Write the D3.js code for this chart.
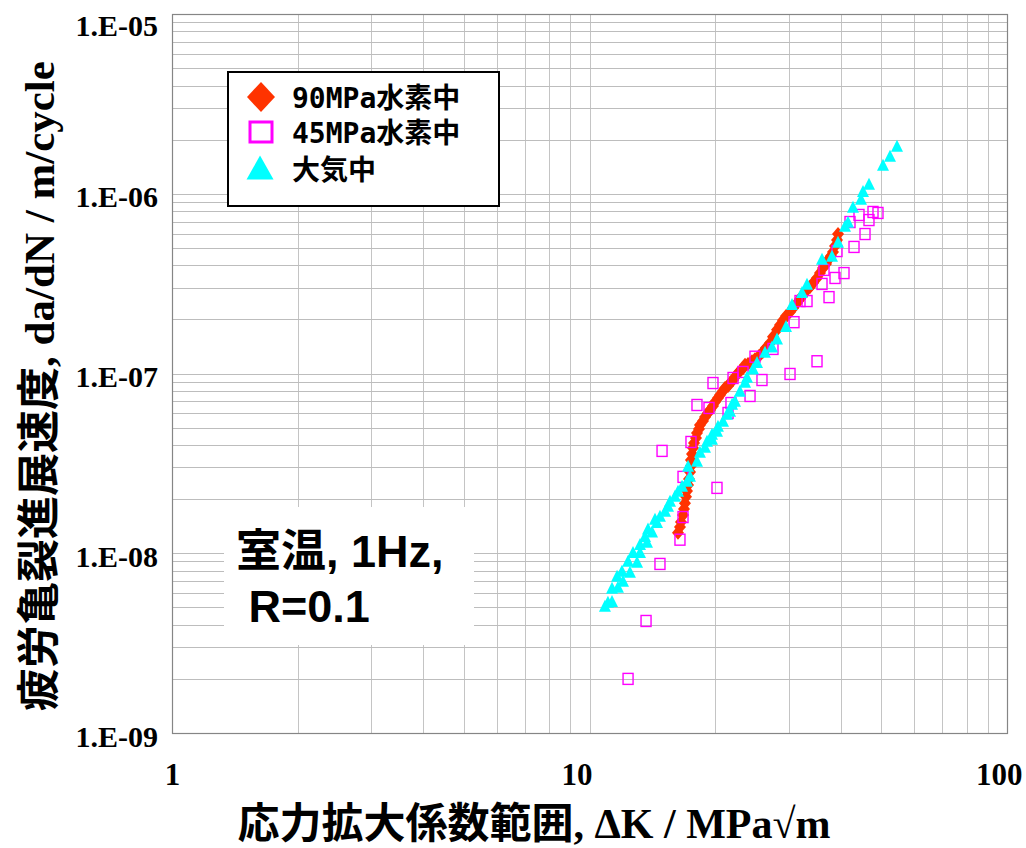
<!DOCTYPE html>
<html>
<head>
<meta charset="utf-8">
<script src="https://cdn.jsdelivr.net/npm/d3@7/dist/d3.min.js"></script>
<style>
  html, body { margin: 0; padding: 0; background: #fff; }
  svg { display: block; }
</style>
</head>
<body>
<svg id="chart" width="1026" height="848"></svg>
<script>
// Fatigue crack growth rate vs. stress intensity factor range
// ΔK [MPa√m], da/dN [m/cycle]

const seriesNames = ["90MPa水素中", "45MPa水素中", "大気中"];

// 90 MPa hydrogen gas
const h2_90MPa = [
  [16.29,1.30e-8],[16.47,1.40e-8],[16.56,1.49e-8],[16.75,1.63e-8],[16.84,1.76e-8],
  [16.93,1.90e-8],[17.03,2.06e-8],[17.12,2.22e-8],[17.22,2.40e-8],[17.31,2.59e-8],
  [17.41,2.83e-8],[17.50,3.06e-8],[17.50,3.30e-8],[17.60,3.57e-8],[17.70,3.85e-8],
  [17.80,4.11e-8],[17.99,4.38e-8],[18.09,4.67e-8],[18.29,4.91e-8],[18.39,5.17e-8],
  [18.70,5.44e-8],[18.91,5.73e-8],[19.22,6.03e-8],[19.44,6.27e-8],[19.76,6.60e-8],
  [19.98,6.94e-8],[20.31,7.31e-8],[20.54,7.59e-8],[20.88,7.99e-8],[21.11,8.31e-8],
  [21.47,8.52e-8],[21.71,8.85e-8],[22.07,9.20e-8],[22.31,9.56e-8],[22.68,1.006e-7],
  [22.93,1.03e-7],[23.32,1.07e-7],[23.58,1.12e-7],[23.97,1.13e-7],[24.50,1.17e-7],
  [24.91,1.20e-7],[25.47,1.25e-7],[26.03,1.32e-7],[26.47,1.39e-7],[27.06,1.48e-7],
  [27.51,1.60e-7],[28.13,1.75e-7],[28.59,1.86e-7],[29.07,1.98e-7],[29.56,2.09e-7],
  [30.22,2.20e-7],[30.72,2.31e-7],[31.41,2.47e-7],[31.93,2.60e-7],[32.46,2.73e-7],
  [33.19,2.91e-7],[33.74,3.03e-7],[34.30,3.19e-7],[35.07,3.40e-7],[35.65,3.62e-7],
  [36.25,3.86e-7],[36.85,4.07e-7],[37.26,4.28e-7],[37.88,4.51e-7],[38.30,4.74e-7],
  [38.73,5.12e-7],[39.16,5.53e-7],[39.38,5.97e-7]
];

// 45 MPa hydrogen gas
const h2_45MPa = [
  [12.37,2.00e-9],[13.66,4.20e-9],[14.75,8.72e-9],[16.47,1.19e-8],[16.75,1.59e-8],
  [14.92,3.71e-8],[16.75,2.66e-8],[17.50,4.16e-8],[18.09,6.68e-8],[19.33,6.43e-8],
  [19.76,8.85e-8],[20.20,2.31e-8],[21.47,6.03e-8],[21.82,6.85e-8],[22.07,9.44e-8],
  [23.32,1.02e-7],[24.24,7.50e-8],[24.91,1.24e-7],[25.89,9.20e-8],[27.51,1.37e-7],
  [30.22,9.94e-8],[30.89,1.93e-7],[31.93,2.53e-7],[33.19,2.53e-7],[35.07,1.17e-7],
  [36.05,3.15e-7],[36.45,3.77e-7],[37.47,2.66e-7],[38.73,3.40e-7],[39.16,4.80e-7],
  [40.70,3.62e-7],[42.07,6.96e-7],[43.01,5.06e-7],[44.21,7.62e-7],[45.70,5.97e-7],
  [46.71,7.14e-7],[47.76,7.92e-7],[49.09,7.82e-7]
];

// Air
const air = [
  [10.89,5.02e-9],[11.07,5.29e-9],[11.32,5.35e-9],[11.32,6.33e-9],[11.70,6.41e-9],
  [11.64,7.38e-9],[12.03,6.92e-9],[11.96,7.87e-9],[12.50,7.76e-9],[12.37,8.94e-9],
  [13.00,8.83e-9],[12.71,1.00e-8],[13.21,1.00e-8],[13.21,1.11e-8],[13.73,1.14e-8],
  [13.58,1.23e-8],[14.12,1.30e-8],[13.81,1.35e-8],[14.51,1.47e-8],[14.35,1.53e-8],
  [14.75,1.59e-8],[15.17,1.70e-8],[15.42,1.81e-8],[15.59,1.93e-8],[16.02,2.06e-8],
  [16.29,2.19e-8],[16.66,2.34e-8],[17.12,2.49e-8],[17.41,2.66e-8],[17.22,3.02e-8],
  [18.09,3.22e-8],[18.39,3.61e-8],[18.91,3.85e-8],[19.12,4.16e-8],[19.65,4.27e-8],
  [19.65,4.55e-8],[20.20,4.73e-8],[20.31,5.04e-8],[20.88,5.37e-8],[21.35,5.88e-8],
  [21.71,6.11e-8],[21.95,6.68e-8],[22.31,6.94e-8],[22.93,7.89e-8],[23.58,8.85e-8],
  [23.84,9.44e-8],[24.64,1.05e-7],[25.19,1.14e-7],[26.32,1.30e-7],[27.36,1.39e-7],
  [28.13,1.54e-7],[29.56,1.81e-7],[30.55,2.40e-7],[32.28,2.80e-7],[33.19,3.11e-7],
  [36.05,4.28e-7],[38.09,4.45e-7],[39.38,5.32e-7],[40.92,6.53e-7],[41.61,6.88e-7],
  [42.77,8.33e-7],[44.70,9.23e-7],[45.19,1.02e-6],[46.71,1.12e-6],[50.47,1.43e-6],
  [52.45,1.60e-6],[54.52,1.82e-6]
];

const xTickValues = [1, 10, 100];
const xTickLabels = ["1", "10", "100"];
const yTickValues = [1e-9, 1e-8, 1e-7, 1e-6, 1e-5];
const yTickLabels = ["1.E-09", "1.E-08", "1.E-07", "1.E-06", "1.E-05"];

const xTitle = "応力拡大係数範囲, ΔK / MPa√m";
const yTitle = "疲労亀裂進展速度, da/dN / m/cycle";
const noteLines = ["室温, 1Hz,", " R=0.1"];

// ---------------------------------------------------------------
const W = 1026, H = 848;
const svg = d3.select("#chart");
const plot = { left: 172, right: 1007, top: 14, bottom: 733 };

const x = d3.scaleLog().domain([1, 100]).range([plot.left, plot.right]);
const y = d3.scaleLog().domain([1e-9, 1e-5]).range([plot.bottom, plot.top]);

const COLORS = { h90: "#ff3300", h45: "#ff00ff", air: "#00ffff" };
const serif = "'Liberation Serif','Times New Roman','Noto Sans CJK JP',serif";

// minor grid values (1..9 x 10^n)
function logGrid(lo, hi) {
  const out = [];
  for (let e = Math.round(Math.log10(lo)); e < Math.round(Math.log10(hi)); e++) {
    for (let k = 1; k <= 9; k++) out.push(k * Math.pow(10, e));
  }
  out.push(hi);
  return out;
}

svg.append("rect").attr("x", 0).attr("y", 0).attr("width", W).attr("height", H).attr("fill", "#fff");

const grid = svg.append("g").attr("class", "grid");
grid.selectAll("line.v").data(logGrid(1, 100)).enter().append("line")
  .attr("class", "v")
  .attr("x1", d => Math.round(x(d)) + 0.5).attr("x2", d => Math.round(x(d)) + 0.5)
  .attr("y1", plot.top).attr("y2", plot.bottom)
  .attr("stroke", "#c4c4c4").attr("stroke-width", 1);
grid.selectAll("line.h").data(logGrid(1e-9, 1e-5)).enter().append("line")
  .attr("class", "h")
  .attr("y1", d => Math.round(y(d)) + 0.5).attr("y2", d => Math.round(y(d)) + 0.5)
  .attr("x1", plot.left).attr("x2", plot.right)
  .attr("stroke", "#bdbdbd").attr("stroke-width", 1);

// plot frame
svg.append("rect")
  .attr("x", plot.left + 0.5).attr("y", plot.top + 0.5)
  .attr("width", plot.right - plot.left).attr("height", plot.bottom - plot.top)
  .attr("fill", "none").attr("stroke", "#858585").attr("stroke-width", 1.2);

// axes (labels only, grid already drawn)
const xAxis = d3.axisBottom(x).tickValues(xTickValues)
  .tickFormat((d, i) => xTickLabels[i]).tickSize(0).tickPadding(0);
const gx = svg.append("g").attr("transform", `translate(0,${plot.bottom})`).call(xAxis);
gx.select(".domain").remove();
gx.selectAll("text")
  .attr("y", 52).attr("dy", null)
  .attr("font-family", serif).attr("font-weight", "bold").attr("font-size", 31)
  .attr("fill", "#000");
// keep labels inside the page; two-digit label sits a little left of its line
gx.selectAll("text").each(function (d) {
  const t = d3.select(this);
  const w = this.getComputedTextLength();
  const cx = x(d);
  let dx = d >= 10 && d < 100 ? -13 : 0;
  if (cx + dx + w / 2 > W - 4) dx = (W - 4) - w / 2 - cx;
  t.attr("x", dx);
});

const yAxis = d3.axisLeft(y).tickValues(yTickValues)
  .tickFormat((d, i) => yTickLabels[i]).tickSize(0).tickPadding(14);
const gy = svg.append("g").attr("transform", `translate(${plot.left},0)`).call(yAxis);
gy.select(".domain").remove();
gy.selectAll(".tick").attr("transform", d => `translate(0,${Math.max(y(d) + 3, 25)})`);
gy.selectAll("text")
  .attr("dy", "0.35em")
  .attr("font-family", serif).attr("font-weight", "bold").attr("font-size", 30)
  .attr("fill", "#000");

// axis titles
svg.append("text")
  .attr("x", 534).attr("y", 838)
  .attr("text-anchor", "middle")
  .attr("font-family", serif).attr("font-weight", "bold").attr("font-size", 42)
  .attr("fill", "#000").text(xTitle);
svg.append("text")
  .attr("transform", "translate(54,386) rotate(-90)")
  .attr("text-anchor", "middle")
  .attr("font-family", serif).attr("font-weight", "bold").attr("font-size", 43)
  .attr("fill", "#000").text(yTitle);

// marker shapes
function diamondPath(w, h) {
  return `M0,${-h / 2}L${w / 2},0L0,${h / 2}L${-w / 2},0Z`;
}
function trianglePath(w, h) {
  return `M0,${-h * 0.6}L${w / 2},${h * 0.4}L${-w / 2},${h * 0.4}Z`;
}

const marks = svg.append("g").attr("class", "marks");

marks.append("g").selectAll("path").data(h2_90MPa).enter().append("path")
  .attr("d", diamondPath(12, 14))
  .attr("transform", d => `translate(${x(d[0])},${y(d[1])})`)
  .attr("fill", COLORS.h90);

marks.append("g").selectAll("rect").data(h2_45MPa).enter().append("rect")
  .attr("x", d => x(d[0]) - 5).attr("y", d => y(d[1]) - 5.5)
  .attr("width", 10).attr("height", 11)
  .attr("fill", "none").attr("stroke", COLORS.h45).attr("stroke-width", 1.4);

marks.append("g").selectAll("path").data(air).enter().append("path")
  .attr("d", trianglePath(12, 12))
  .attr("transform", d => `translate(${x(d[0])},${y(d[1])})`)
  .attr("fill", COLORS.air);

// legend
const lg = svg.append("g").attr("class", "legend");
lg.append("rect").attr("x", 228).attr("y", 72).attr("width", 271).attr("height", 134)
  .attr("fill", "#fff").attr("stroke", "#000").attr("stroke-width", 2);
const legendRows = [
  { name: seriesNames[0], kind: "diamond", cy: 97 },
  { name: seriesNames[1], kind: "square", cy: 132 },
  { name: seriesNames[2], kind: "triangle", cy: 169 }
];
legendRows.forEach(r => {
  const g = lg.append("g").attr("transform", `translate(261,${r.cy})`);
  if (r.kind === "diamond") {
    g.append("path").attr("d", diamondPath(28, 30)).attr("fill", COLORS.h90);
  } else if (r.kind === "square") {
    g.append("rect").attr("x", -11).attr("y", -10).attr("width", 22).attr("height", 20)
      .attr("fill", "none").attr("stroke", COLORS.h45).attr("stroke-width", 3);
  } else {
    g.append("path").attr("d", trianglePath(27, 24)).attr("transform", "translate(-1,1)")
      .attr("fill", COLORS.air);
  }
  lg.append("text").attr("x", 292).attr("y", r.cy + 11)
    .attr("font-family", "'DejaVu Sans Mono','Noto Sans CJK JP',monospace")
    .attr("font-weight", "bold").attr("font-size", 28)
    .attr("fill", "#000").text(r.name);
});

// test condition note
const note = svg.append("g").attr("class", "note");
note.append("rect").attr("x", 224).attr("y", 507).attr("width", 250).attr("height", 138)
  .attr("fill", "#fff");
note.selectAll("text").data(noteLines).enter().append("text")
  .attr("x", 236).attr("y", (d, i) => 567 + i * 55)
  .attr("xml:space", "preserve")
  .style("white-space", "pre")
  .attr("font-family", "'Liberation Sans',Arial,'Noto Sans CJK JP',sans-serif")
  .attr("font-weight", "bold").attr("font-size", 45)
  .attr("fill", "#000").text(d => d);
</script>
</body>
</html>
